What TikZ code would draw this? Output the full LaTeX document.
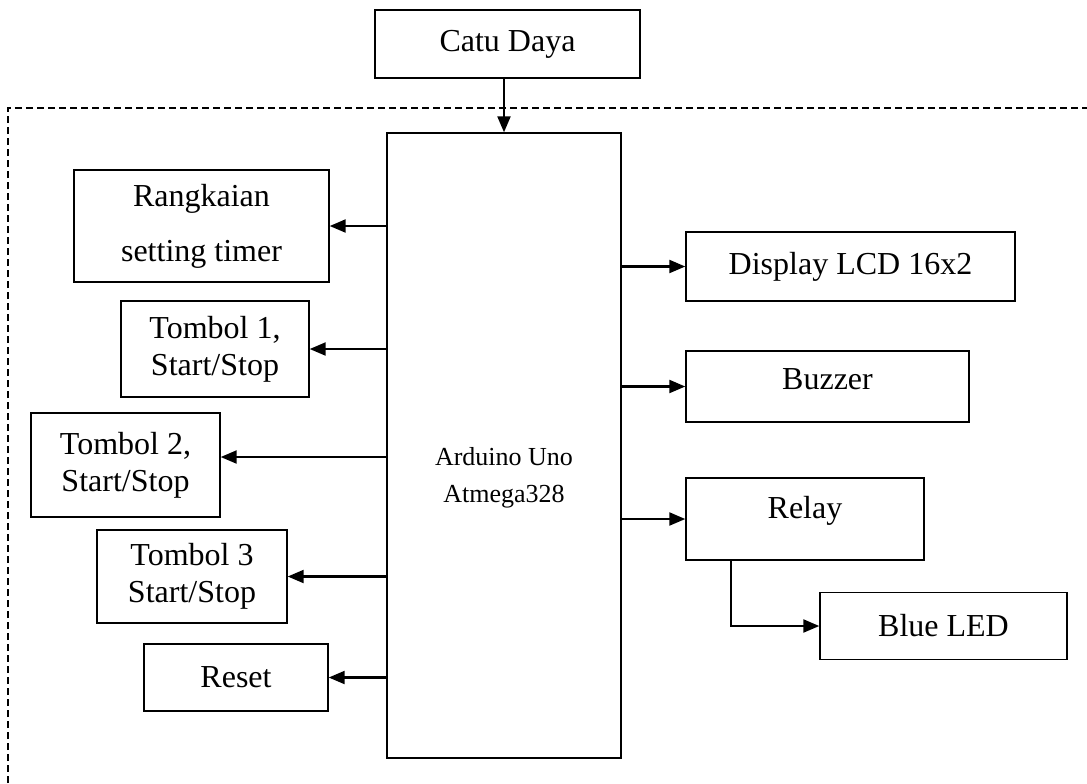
\documentclass[tikz,border=0pt]{standalone}
\usepackage{fontspec}
\setmainfont{Liberation Serif}
\usetikzlibrary{arrows.meta,positioning}

\begin{document}
\begin{tikzpicture}[x=0.5pt,y=-0.5pt,>={Triangle[length=8pt,width=6.5pt]}]
  \tikzset{blok/.style={draw,line width=0.7pt,inner sep=0pt,align=center,
                        font=\fontsize{16}{18.5}\selectfont},
           panah/.style={->,line width=1.1pt},
           garis/.style={line width=0.7pt,dash pattern=on 3.5pt off 2pt}}
  \useasboundingbox (0,0) rectangle (1087,783);

  % catu daya dan mikrokontroler
  \node[blok,minimum width=132.5pt,minimum height=34pt]  (catu)  at (507.5,44)   {Catu Daya};
  \node[blok,minimum width=117pt,minimum height=312.5pt] (ard)   at (504,445.5)  {};
  \node[align=center,font=\fontsize{13}{18.5}\selectfont] (ardtxt) at (504,478) {Arduino Uno\\Atmega328};

  % masukan (kiri)
  \node[blok,minimum width=127.5pt,minimum height=56pt]  (rang)  at (201.5,226)  {Rangkaian\\[9pt]setting timer};
  \node[blok,minimum width=94pt,minimum height=48pt]     (tb1)   at (215,349)    {Tombol 1,\\Start/Stop};
  \node[blok,minimum width=94.5pt,minimum height=52pt]   (tb2)   at (125.5,465)  {Tombol 2,\\Start/Stop};
  \node[blok,minimum width=95pt,minimum height=46.5pt]   (tb3)   at (192,576.5)  {Tombol 3\\Start/Stop};
  \node[blok,minimum width=92pt,minimum height=33.5pt]   (reset) at (236,677.5)  {Reset};

  % keluaran (kanan)
  \node[blok,minimum width=164.5pt,minimum height=34.5pt] (lcd)   at (850.5,266.5) {Display LCD 16x2};
  \node[blok,minimum width=141.5pt,minimum height=35.5pt,text depth=7pt] (buzz) at (827.5,386.5) {Buzzer};
  \node[blok,minimum width=119pt,minimum height=41pt,text depth=12pt]    (relay) at (805,519) {Relay};
  \node[blok,minimum width=123.5pt,minimum height=33.5pt] (led)   at (943.5,626)   {Blue LED};

  \coordinate (tb2in) at ([yshift=4pt]tb2.east);

  % panah
  \draw[panah] (ard.north |- catu.south) -- (ard.north);
  \draw[panah] (ard.west |- rang.east) -- (rang.east);
  \draw[panah] (ard.west |- tb1.east) -- (tb1.east);
  \draw[panah] (ard.west |- tb2in) -- (tb2in);
  \draw[panah] (ard.west |- tb3.east) -- (tb3.east);
  \draw[panah] (ard.west |- reset.east) -- (reset.east);
  \draw[panah] (ard.east |- lcd.west) -- (lcd.west);
  \draw[panah] (ard.east |- buzz.west) -- (buzz.west);
  \draw[panah] (ard.east |- relay.west) -- (relay.west);
  \draw[panah] ([xshift=23pt]relay.south west) |- (led.west);

  % batas sistem
  \draw[garis] (8,783) -- (8,108) -- (1087,108);
\end{tikzpicture}
\end{document}
